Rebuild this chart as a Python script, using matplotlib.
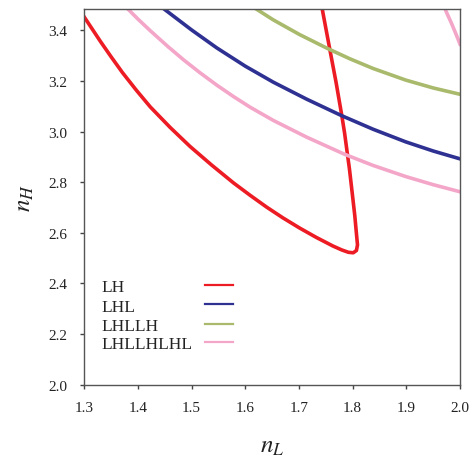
import numpy as np
import matplotlib
matplotlib.use('Agg')
import matplotlib.pyplot as plt

plt.rcParams['font.family'] = ['Liberation Serif', 'DejaVu Serif']
plt.rcParams['mathtext.fontset'] = 'stix'

# curve data (n_L, n_H)
lh_nL = [1.297, 1.300, 1.315, 1.330, 1.350, 1.371, 1.397, 1.423, 1.460, 1.497,
         1.537, 1.578, 1.609, 1.640, 1.670, 1.701, 1.732, 1.763, 1.780, 1.792,
         1.801, 1.807, 1.809, 1.806, 1.804, 1.799, 1.794, 1.789, 1.785, 1.780,
         1.769, 1.757, 1.743, 1.742]
lh_nH = [3.462, 3.452, 3.404, 3.356, 3.295, 3.233, 3.163, 3.097, 3.016, 2.941,
         2.868, 2.797, 2.748, 2.701, 2.659, 2.619, 2.582, 2.548, 2.532, 2.523,
         2.521, 2.530, 2.552, 2.620, 2.667, 2.760, 2.852, 2.930, 2.993, 3.060,
         3.195, 3.329, 3.487, 3.500]

lhl_nL = [1.443, 1.451, 1.500, 1.547, 1.600, 1.652, 1.714, 1.779, 1.838, 1.899,
          1.950, 2.000]
lhl_nH = [3.493, 3.480, 3.401, 3.330, 3.258, 3.195, 3.128, 3.063, 3.009, 2.959,
          2.923, 2.892]

lhllh_nL = [1.612, 1.618, 1.652, 1.701, 1.754, 1.795, 1.838, 1.899, 1.950, 2.000]
lhllh_nH = [3.495, 3.487, 3.441, 3.383, 3.327, 3.287, 3.249, 3.203, 3.172, 3.147]

lhllhlhl_nL = [1.376, 1.383, 1.400, 1.423, 1.455, 1.485, 1.515, 1.547, 1.578,
               1.609, 1.652, 1.714, 1.785, 1.838, 1.899, 1.950, 2.000]
lhllhlhl_nH = [3.495, 3.480, 3.444, 3.398, 3.337, 3.283, 3.233, 3.183, 3.138,
               3.096, 3.044, 2.978, 2.910, 2.866, 2.822, 2.790, 2.762]
# second branch in the top right corner
lhllhlhl2_nL = [1.970, 1.976, 1.984, 1.993, 2.000]
lhllhlhl2_nH = [3.495, 3.465, 3.428, 3.382, 3.345]

names = ['LH', 'LHL', 'LHLLH', 'LHLLHLHL']
colors = ['#ED1C24', '#2E3192', '#A9BA6C', '#F4A6C9']

fig = plt.figure(figsize=(4.77, 4.6), dpi=100)
ax = fig.add_axes([0.1767, 0.1615, 0.7877, 0.8174])

lw = 2.6
ax.plot(lh_nL, lh_nH, color=colors[0], lw=lw, solid_joinstyle='round')
ax.plot(lhl_nL, lhl_nH, color=colors[1], lw=lw, solid_joinstyle='round')
ax.plot(lhllh_nL, lhllh_nH, color=colors[2], lw=lw, solid_joinstyle='round')
ax.plot(lhllhlhl_nL, lhllhlhl_nH, color=colors[3], lw=lw, solid_joinstyle='round')
ax.plot(lhllhlhl2_nL, lhllhlhl2_nH, color=colors[3], lw=lw, solid_joinstyle='round')

ax.set_xlim(1.3, 2.0)
ax.set_ylim(2.0, 3.485)
ax.set_xticks(np.arange(1.3, 2.01, 0.1))
ax.set_yticks(np.arange(2.0, 3.41, 0.2))
ax.xaxis.set_major_formatter(matplotlib.ticker.FormatStrFormatter('%.1f'))
ax.yaxis.set_major_formatter(matplotlib.ticker.FormatStrFormatter('%.1f'))
ax.tick_params(direction='out', length=3, width=1, colors='#444444',
               labelcolor='#222222', labelsize=11, pad=9)
for s in ax.spines.values():
    s.set_color('#555555')
    s.set_linewidth(1)

ax.set_xlabel(r'$n_L$', fontsize=18, labelpad=15, color='#222222')
ax.set_ylabel(r'$n_H$', fontsize=18, labelpad=9, color='#222222')

# legend: labels on the left, short lines on the right
text_y = [0.249, 0.197, 0.146, 0.098]
line_y = [0.265, 0.214, 0.162, 0.114]
for name, c, ty, ly in zip(names, colors, text_y, line_y):
    ax.text(0.047, ty, name, transform=ax.transAxes, fontsize=12.5,
            va='baseline', ha='left', color='#222222')
    ax.plot([0.321, 0.396], [ly, ly], transform=ax.transAxes, color=c, lw=1.6)

fig.savefig('out.png', dpi=100)
